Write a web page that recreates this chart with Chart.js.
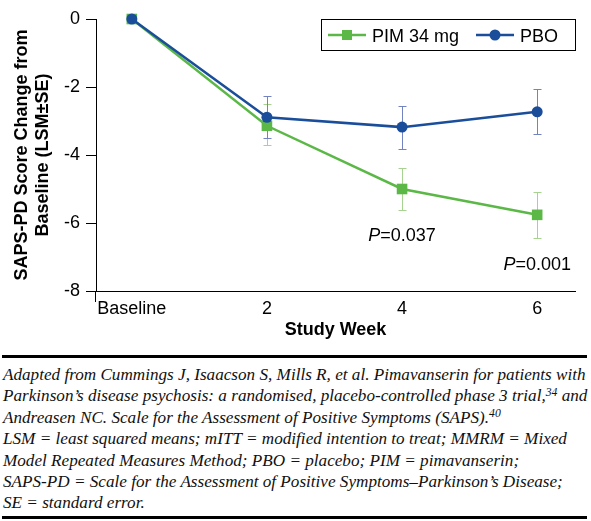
<!DOCTYPE html>
<html>
<head>
<meta charset="utf-8">
<script src="https://cdn.jsdelivr.net/npm/chart.js@4/dist/chart.umd.min.js"></script>
<style>
  body { margin: 0; background: #fff; }
  #wrap { position: relative; width: 591px; height: 521px; overflow: hidden; }
  #chart { position: absolute; left: 0; top: 0; }
  .rule { position: absolute; left: 2px; width: 585px; height: 3px; background: #000; }
  #caption { position: absolute; left: 3px; top: 364px; width: 600px; font-family: 'Liberation Serif', serif; font-style: italic; color: #111; white-space: nowrap; }
  #caption div { height: 21.4px; line-height: 21.4px; }
  #caption span.line { display: inline-block; }
  #caption sup { font-size: 0.68em; line-height: 0; vertical-align: baseline; position: relative; top: -0.5em; }
</style>
</head>
<body>
<div id="wrap">
  <canvas id="chart" width="591" height="350"></canvas>
  <div class="rule" style="top:355px"></div>
  <div id="caption">
    <div><span class="line" id="cap1">Adapted from Cummings J, Isaacson S, Mills R, et al. Pimavanserin for patients with</span></div>
    <div>Parkinson’s disease psychosis: a randomised, placebo-controlled phase 3 trial,<sup>34</sup> and</div>
    <div>Andreasen NC. Scale for the Assessment of Positive Symptoms (SAPS).<sup>40</sup></div>
    <div>LSM = least squared means; mITT = modified intention to treat; MMRM = Mixed</div>
    <div>Model Repeated Measures Method; PBO = placebo; PIM = pimavanserin;</div>
    <div>SAPS-PD = Scale for the Assessment of Positive Symptoms–Parkinson’s Disease;</div>
    <div>SE = standard error.</div>
  </div>
  <div class="rule" style="top:516px"></div>
</div>
<script>
// weeks (0 = baseline)
const weeks = [0, 2, 4, 6];
const xTickLabels = ['Baseline', '2', '4', '6'];

// PIM 34 mg, LSM and SE bounds
const pimMean = [0, -3.14, -5.0, -5.76];
const pimUpper = [null, -2.50, -4.38, -5.09];
const pimLower = [null, -3.70, -5.61, -6.43];

// placebo
const pboMean = [0, -2.89, -3.18, -2.73];
const pboUpper = [null, -2.26, -2.57, -2.06];
const pboLower = [null, -3.49, -3.81, -3.38];

const yTicks = [0, -2, -4, -6, -8];
const pNotes = [{ week: 4, y: -6.37, p: '0.037' }, { week: 6, y: -7.23, p: '0.001' }];

const GREEN = '#5bb847', BLUE = '#1a4e9b';
const GREEN_ERR = '#a6d38f', BLUE_ERR = '#7383c2';
const FONT = "'Liberation Sans', Arial, sans-serif";

Chart.defaults.font.family = FONT;
Chart.defaults.color = '#000';

// make caption line 1 span its width in the picture
(function fitCaption() {
  const cap = document.getElementById('caption');
  cap.style.fontSize = '16px';
  const w = document.getElementById('cap1').getBoundingClientRect().width;
  cap.style.fontSize = (16 * 583 / w).toFixed(2) + 'px';
})();

const errorBars = {
  id: 'errorBars',
  beforeDatasetsDraw(chart) {
    const { ctx, scales: { x, y } } = chart;
    const sets = [[pimUpper, pimLower, GREEN_ERR], [pboUpper, pboLower, BLUE_ERR]];
    ctx.save();
    ctx.lineWidth = 1;
    sets.forEach(([up, lo, col]) => {
      ctx.strokeStyle = col;
      weeks.forEach((w, i) => {
        if (up[i] == null) return;
        const px = Math.round(x.getPixelForValue(w)) + 0.5;
        const y1 = Math.round(y.getPixelForValue(up[i])) + 0.5;
        const y2 = Math.round(y.getPixelForValue(lo[i])) + 0.5;
        ctx.beginPath();
        ctx.moveTo(px, y1); ctx.lineTo(px, y2);
        ctx.moveTo(px - 4, y1); ctx.lineTo(px + 4, y1);
        ctx.moveTo(px - 4, y2); ctx.lineTo(px + 4, y2);
        ctx.stroke();
      });
    });
    ctx.restore();
  }
};

const extras = {
  id: 'extras',
  afterDraw(chart) {
    const { ctx, chartArea: a, scales: { x, y } } = chart;
    ctx.save();
    // y axis runs a little below the x axis
    ctx.strokeStyle = '#000'; ctx.lineWidth = 1;
    ctx.beginPath();
    ctx.moveTo(Math.round(a.left) - 0.5, a.bottom); ctx.lineTo(Math.round(a.left) - 0.5, a.bottom + 11);
    ctx.stroke();

    // p values
    ctx.fillStyle = '#000'; ctx.textBaseline = 'middle';
    pNotes.forEach(n => {
      const cx = x.getPixelForValue(n.week), cy = y.getPixelForValue(n.y);
      ctx.font = 'italic 18px ' + FONT;
      const wp = ctx.measureText('P').width;
      ctx.font = '18px ' + FONT;
      const rest = '=' + n.p;
      const wr = ctx.measureText(rest).width;
      const x0 = cx - (wp + wr) / 2;
      ctx.font = 'italic 18px ' + FONT;
      ctx.textAlign = 'left';
      ctx.fillText('P', x0, cy);
      ctx.font = '18px ' + FONT;
      ctx.fillText(rest, x0 + wp, cy);
    });

    // legend box
    ctx.strokeStyle = '#000';
    ctx.strokeRect(321.5, 19.5, 254, 31);
    const ly = 35;
    const items = [
      { ds: chart.data.datasets[0], x: 328 },
      { ds: chart.data.datasets[1], x: 476 }
    ];
    items.forEach(it => {
      ctx.strokeStyle = it.ds.borderColor; ctx.lineWidth = 2.5;
      ctx.beginPath(); ctx.moveTo(it.x, ly); ctx.lineTo(it.x + 38, ly); ctx.stroke();
      ctx.fillStyle = it.ds.borderColor;
      if (it.ds.pointStyle === 'rect') {
        ctx.fillRect(it.x + 19 - 5, ly - 5, 10, 10);
      } else {
        ctx.beginPath(); ctx.arc(it.x + 19, ly, 5.5, 0, Math.PI * 2); ctx.fill();
      }
      ctx.fillStyle = '#000'; ctx.font = '18px ' + FONT; ctx.textAlign = 'left'; ctx.textBaseline = 'alphabetic';
      ctx.fillText(it.ds.label, it.x + 44, ly + 6.5);
    });
    ctx.restore();
  }
};

new Chart(document.getElementById('chart'), {
  type: 'line',
  data: {
    datasets: [
      {
        label: 'PIM 34 mg',
        data: weeks.map((w, i) => ({ x: w, y: pimMean[i] })),
        borderColor: GREEN, backgroundColor: GREEN,
        borderWidth: 2.5, pointStyle: 'rect', pointRadius: 7.5, pointBorderWidth: 0,
        tension: 0, clip: false, order: 2
      },
      {
        label: 'PBO',
        data: weeks.map((w, i) => ({ x: w, y: pboMean[i] })),
        borderColor: BLUE, backgroundColor: BLUE,
        borderWidth: 2.5, pointStyle: 'circle', pointRadius: 5.5, pointBorderWidth: 0,
        tension: 0, clip: false, order: 1
      }
    ]
  },
  options: {
    responsive: false,
    devicePixelRatio: 1,
    animation: false,
    layout: { padding: { top: 19, right: 16, left: 0, bottom: 0 } },
    plugins: { legend: { display: false }, tooltip: { enabled: false } },
    scales: {
      x: {
        type: 'linear', min: -0.53, max: 6.56,
        afterBuildTicks: s => { s.ticks = weeks.map(v => ({ value: v })); },
        afterFit: s => { s.height = 59; },
        ticks: { callback: v => xTickLabels[weeks.indexOf(v)], font: { size: 18 }, padding: 7, maxRotation: 0, autoSkip: false },
        grid: { display: true, drawOnChartArea: false, drawTicks: false },
        border: { color: '#000', width: 1 },
        title: { display: true, text: 'Study Week', font: { size: 18, weight: 'bold' }, padding: { top: 0, bottom: 9 } }
      },
      y: {
        min: -8, max: 0,
        afterBuildTicks: s => { s.ticks = yTicks.map(v => ({ value: v })); },
        afterFit: s => { s.width = 96; },
        ticks: { font: { size: 18 }, padding: 6 },
        grid: { drawOnChartArea: false, tickLength: 10, color: '#000' },
        border: { color: '#000', width: 1 },
        title: { display: true, text: ['SAPS-PD Score Change from', 'Baseline (LSM±SE)'], font: { size: 18, weight: 'bold' }, padding: { top: 11, bottom: 0 } }
      }
    }
  },
  plugins: [errorBars, extras]
});
</script>
</body>
</html>
